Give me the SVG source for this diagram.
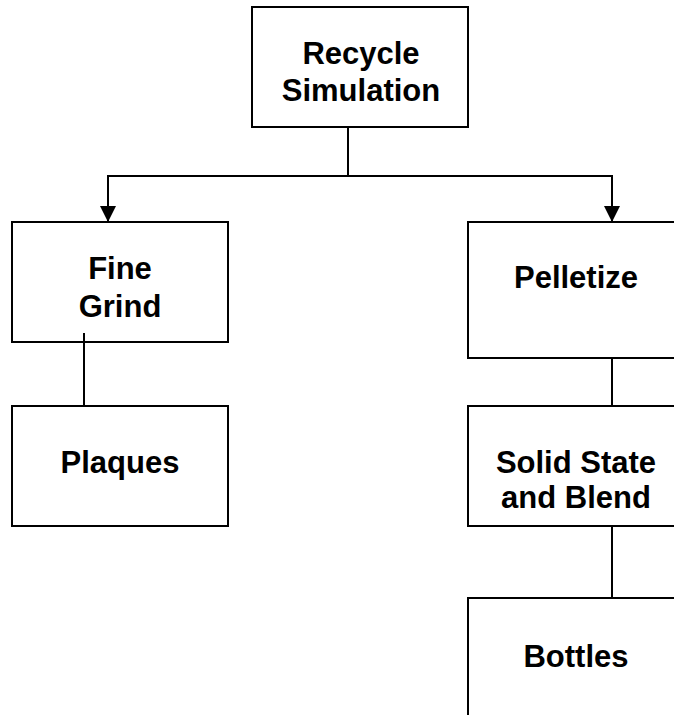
<svg xmlns="http://www.w3.org/2000/svg" width="674" height="715" viewBox="0 0 674 715">
<style>
.box{fill:#fff;stroke:#000;stroke-width:2}
.lbl{font-family:"Liberation Sans",Arial,sans-serif;font-weight:bold;font-size:31px;fill:#000;text-anchor:middle}
.conn{fill:none;stroke:#000;stroke-width:2}
</style>
<defs>
<marker id="arr" markerUnits="userSpaceOnUse" markerWidth="18" markerHeight="16" viewBox="0 0 18 16" refX="9" refY="16" orient="0">
<path d="M1,0 L17,0 L9,16 Z" fill="#000"/>
</marker>
</defs>
<rect width="674" height="715" fill="#fff"/>
<g id="connectors">
<path class="conn" d="M348,127 V176 H108 V222" marker-end="url(#arr)"/>
<path class="conn" d="M348,176 H612 V222" marker-end="url(#arr)"/>
<path class="conn" d="M612,358 V406"/>
<path class="conn" d="M612,526 V598"/>
</g>
<g id="recycle">
<rect class="box" x="252" y="7" width="216" height="120"/>
<text class="lbl" x="361" y="64">Recycle</text>
<text class="lbl" x="361" y="101">Simulation</text>
</g>
<g id="finegrind">
<rect class="box" x="12" y="222" width="216" height="120"/>
<text class="lbl" x="120" y="279">Fine</text>
<text class="lbl" x="120" y="317">Grind</text>
</g>
<g id="plaques">
<rect class="box" x="12" y="406" width="216" height="120"/>
<text class="lbl" x="120" y="473">Plaques</text>
</g>
<g id="pelletize">
<rect class="box" x="468" y="222" width="216" height="136"/>
<text class="lbl" x="576" y="288">Pelletize</text>
</g>
<g id="solidstate">
<rect class="box" x="468" y="406" width="216" height="120"/>
<text class="lbl" x="576" y="473">Solid State</text>
<text class="lbl" x="576" y="508">and Blend</text>
</g>
<g id="bottles">
<rect class="box" x="468" y="598" width="216" height="130"/>
<text class="lbl" x="576" y="667">Bottles</text>
</g>
<g id="connector-fine-plaques">
<path class="conn" d="M84,333 V406"/>
</g>
</svg>
